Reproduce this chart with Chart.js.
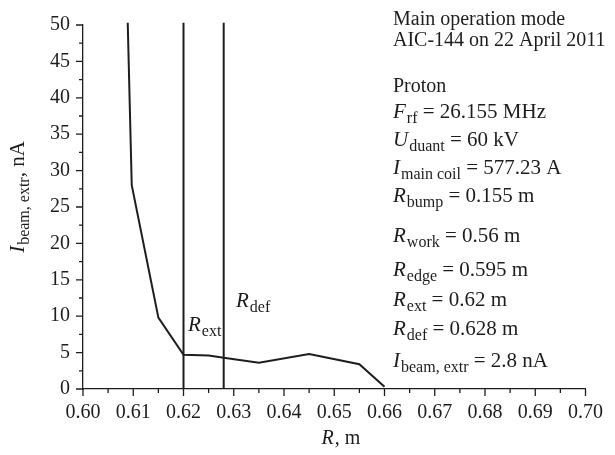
<!DOCTYPE html>
<html>
<head>
<meta charset="utf-8">
<script src="https://cdn.jsdelivr.net/npm/chart.js@4"></script>
<style>
  body { margin: 0; background: #fff; }
  #wrap { width: 615px; height: 455px; }
</style>
</head>
<body>
<div id="wrap"><canvas id="chart" width="615" height="455"></canvas></div>
<script>
// beam current vs radius
const radius = [0.6089, 0.6097, 0.615, 0.62, 0.625, 0.628, 0.635, 0.645, 0.655, 0.66];
const current = [50.3, 28, 9.8, 4.7, 4.6, 4.3, 3.6, 4.8, 3.4, 0.3];

const rExt = 0.62;
const rDef = 0.628;
const lineTop = 50.3;

const xTicks = [0.60, 0.61, 0.62, 0.63, 0.64, 0.65, 0.66, 0.67, 0.68, 0.69, 0.70];
const yTicks = [0, 5, 10, 15, 20, 25, 30, 35, 40, 45, 50];

// right-hand info block: [text, style] pieces, style n = normal, i = italic, s = subscript
const infoLines = [
  [['Main operation mode', 'n']],
  [['AIC-144 on 22 April 2011', 'n']],
  [['Proton', 'n']],
  [['F', 'i'], ['rf', 's'], [' = 26.155 MHz', 'n']],
  [['U', 'i'], ['duant', 's'], [' = 60 kV', 'n']],
  [['I', 'i'], ['main coil', 's'], [' = 577.23 A', 'n']],
  [['R', 'i'], ['bump', 's'], [' = 0.155 m', 'n']],
  [['R', 'i'], ['work', 's'], [' = 0.56 m', 'n']],
  [['R', 'i'], ['edge', 's'], [' = 0.595 m', 'n']],
  [['R', 'i'], ['ext', 's'], [' = 0.62 m', 'n']],
  [['R', 'i'], ['def', 's'], [' = 0.628 m', 'n']],
  [['I', 'i'], ['beam, extr', 's'], [' = 2.8 nA', 'n']]
];
const infoBase = [25, 46, 92, 118, 146, 174, 202, 242, 276, 306, 335, 367];

const INK = '#1f1c1d';
const FAMILY = '"Liberation Serif", "DejaVu Serif", serif';

function fontFor(style, size) {
  if (style === 'i') return 'italic ' + size + 'px ' + FAMILY;
  if (style === 's') return Math.round(size * 0.74) + 'px ' + FAMILY;
  return size + 'px ' + FAMILY;
}

function drawRich(ctx, parts, x, y, size = 20) {
  let cx = x;
  parts.forEach(([txt, st]) => {
    ctx.font = fontFor(st, size);
    const dy = st === 's' ? 5 : 0;
    ctx.fillText(txt, cx, y + dy);
    cx += ctx.measureText(txt).width + (st === 'i' ? 1 : 0);
  });
  return cx - x;
}

function richWidth(ctx, parts, size = 20) {
  let w = 0;
  parts.forEach(([txt, st]) => {
    ctx.font = fontFor(st, size);
    w += ctx.measureText(txt).width + (st === 'i' ? 1 : 0);
  });
  return w;
}

const decor = {
  id: 'decor',
  afterDraw(chart) {
    const ctx = chart.ctx;
    const xs = chart.scales.x;
    const ys = chart.scales.y;
    const area = chart.chartArea;
    ctx.save();
    ctx.strokeStyle = INK;
    ctx.fillStyle = INK;
    ctx.lineWidth = 1.3;

    // tick marks, major and minor, outward
    ctx.beginPath();
    for (let i = 0; i <= 20; i++) {
      const v = 0.6 + i * 0.005;
      const px = xs.getPixelForValue(v);
      const len = i % 2 === 0 ? 7 : 4;
      ctx.moveTo(px, area.bottom);
      ctx.lineTo(px, area.bottom + len);
    }
    for (let i = 0; i <= 20; i++) {
      const py = ys.getPixelForValue(i * 2.5);
      const len = i % 2 === 0 ? 7 : 4;
      ctx.moveTo(area.left, py);
      ctx.lineTo(area.left - len, py);
    }
    ctx.stroke();

    // info text
    ctx.textBaseline = 'alphabetic';
    ctx.textAlign = 'left';
    infoLines.forEach((parts, i) => drawRich(ctx, parts, 393, infoBase[i], i < 3 ? 20 : 21));

    // labels for the two radius lines
    drawRich(ctx, [['R', 'i'], ['ext', 's']], 188, 331, 21);
    drawRich(ctx, [['R', 'i'], ['def', 's']], 236, 307, 21);

    // x title
    const xt = [['R', 'i'], [', m', 'n']];
    drawRich(ctx, xt, 341 - richWidth(ctx, xt) / 2, 444);

    // y title, rotated
    const yt = [['I', 'i'], ['beam, extr', 's'], [', nA', 'n']];
    ctx.translate(24, 197);
    ctx.rotate(-Math.PI / 2);
    drawRich(ctx, yt, -richWidth(ctx, yt, 21) / 2, 0, 21);
    ctx.restore();
  }
};

new Chart(document.getElementById('chart'), {
  type: 'scatter',
  data: {
    datasets: [
      {
        data: radius.map((r, i) => ({ x: r, y: current[i] })),
        showLine: true,
        borderColor: INK,
        borderWidth: 2,
        pointRadius: 0,
        tension: 0,
        clip: false
      },
      {
        data: [{ x: rExt, y: 0 }, { x: rExt, y: lineTop }],
        showLine: true,
        borderColor: INK,
        borderWidth: 2,
        pointRadius: 0,
        clip: false
      },
      {
        data: [{ x: rDef, y: 0 }, { x: rDef, y: lineTop }],
        showLine: true,
        borderColor: INK,
        borderWidth: 2,
        pointRadius: 0,
        clip: false
      }
    ]
  },
  options: {
    responsive: false,
    animation: false,
    devicePixelRatio: 1,
    layout: { padding: { left: 0, top: 16, right: 23, bottom: 0 } },
    plugins: { legend: { display: false }, tooltip: { enabled: false } },
    scales: {
      x: {
        type: 'linear',
        min: 0.6,
        max: 0.7,
        afterFit: s => { s.height = 66; },
        afterBuildTicks: s => { s.ticks = xTicks.map(v => ({ value: v })); },
        grid: { display: false, drawTicks: false },
        border: { display: true, color: INK, width: 1.3 },
        ticks: {
          padding: 12,
          color: INK,
          font: { family: FAMILY, size: 20 },
          callback: v => v.toFixed(2),
          maxRotation: 0,
          autoSkip: false
        }
      },
      y: {
        type: 'linear',
        min: 0,
        max: 50,
        afterFit: s => { s.width = 83; },
        afterBuildTicks: s => { s.ticks = yTicks.map(v => ({ value: v })); },
        grid: { display: false, drawTicks: false },
        border: { display: true, color: INK, width: 1.3 },
        ticks: {
          padding: 13,
          color: INK,
          font: { family: FAMILY, size: 20 },
          autoSkip: false
        }
      }
    }
  },
  plugins: [decor]
});
</script>
</body>
</html>
